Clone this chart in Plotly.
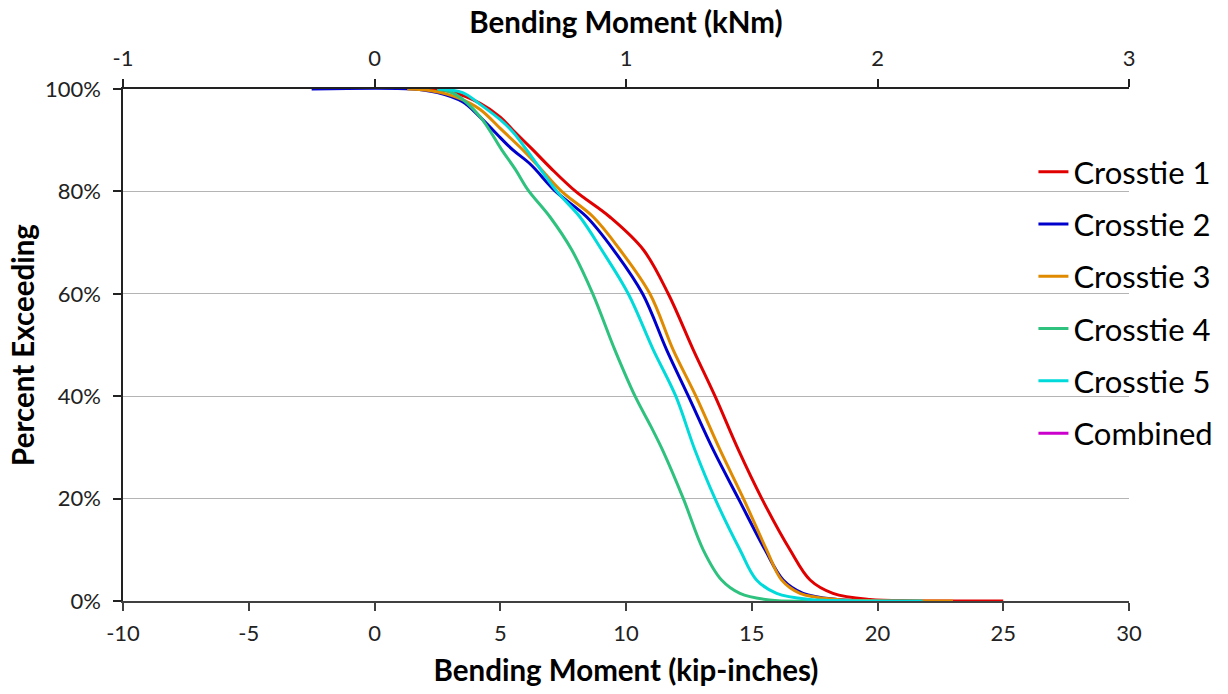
import plotly.graph_objects as go

FONT = "Lato"

names = ["Crosstie 1", "Crosstie 2", "Crosstie 3", "Crosstie 4", "Crosstie 5", "Combined"]
colors = ["#E00000", "#0000CC", "#E08A00", "#2EC27E", "#00DADA", "#CC00CC"]

ct1_x = [2.0, 3.0, 4.2, 5.0, 5.5, 6.3, 7.0, 8.0, 9.36, 10.69, 11.68, 12.68, 13.54, 14.47, 15.4, 16.52, 17.32, 18.23, 19.7, 21.5, 25.0]
ct1_y = [100, 99.5, 97.2, 94.5, 92.0, 88.1, 84.6, 80, 75, 68.6, 60, 49, 40, 29.5, 20, 10, 4.1, 1.5, 0.3, 0.05, 0]

ct2_x = [-2.5, 1.5, 2.5, 3.5, 4.2, 5.0, 5.5, 6.2, 7.2, 8.44, 9.5, 10.66, 11.62, 12.48, 13.47, 14.47, 15.53, 16.25, 17.04, 18.4, 20.0]
ct2_y = [100, 100, 99.3, 97.5, 94.5, 90.5, 88.1, 85.3, 80, 75, 68.6, 60, 49, 40, 29.5, 20, 10, 4.1, 1.5, 0.3, 0]

ct3_x = [1.3, 2.3, 3.3, 4.2, 5.0, 5.9, 6.5, 7.44, 8.7, 9.76, 10.95, 11.88, 12.78, 13.74, 14.67, 15.59, 16.19, 16.92, 18.4, 20.0, 23.0]
ct3_y = [100, 99.6, 98.3, 96.0, 92.3, 88.1, 85.0, 80, 75, 68.6, 60, 49, 40, 29.5, 20, 10, 4.1, 1.5, 0.3, 0.05, 0]

ct4_x = [2.5, 3.2, 4.2, 5.06, 5.6, 6.1, 6.98, 7.84, 8.68, 9.56, 10.36, 11.0, 11.5, 12.28, 13.07, 13.8, 14.53, 15.7, 17.5]
ct4_y = [100, 99.0, 94.6, 88.1, 84.3, 80.3, 75, 68.6, 60, 49, 40, 34.0, 29.0, 20, 10, 4.1, 1.5, 0.2, 0]

ct5_x = [2.5, 3.5, 4.2, 5.0, 5.52, 6.05, 7.25, 8.17, 9.03, 10.09, 11.09, 11.98, 12.74, 13.54, 14.53, 15.19, 15.99, 17.3, 19.0, 21.8]
ct5_y = [100, 99.3, 97.0, 94.0, 91.5, 88.1, 80, 75, 68.6, 60, 49, 40, 29.5, 20, 10, 4.1, 1.5, 0.3, 0.05, 0]

combined_x = []
combined_y = []

series_x = [ct1_x, ct2_x, ct3_x, ct4_x, ct5_x, combined_x]
series_y = [ct1_y, ct2_y, ct3_y, ct4_y, ct5_y, combined_y]

bottom_ticks = [-10, -5, 0, 5, 10, 15, 20, 25, 30]
top_ticks = [-1, 0, 1, 2, 3]
y_ticks = [0, 20, 40, 60, 80, 100]

fig = go.Figure()
for n, c, xs, ys in zip(names, colors, series_x, series_y):
    fig.add_trace(go.Scatter(
        x=xs if xs else [None], y=ys if ys else [None], name=n, mode="lines",
        line=dict(color=c, width=3, shape="spline", smoothing=1.0),
        legendgroup=n,
    ))

# trace to activate the top axis
fig.add_trace(go.Scatter(x=[None], y=[None], xaxis="x2", showlegend=False, hoverinfo="skip"))

tick_font = dict(family=FONT, size=22, color="#222222")
title_font = dict(family=FONT, size=29.5, color="#000000")

fig.update_layout(
    width=1228, height=694,
    margin=dict(l=123, r=99, t=89, b=93, autoexpand=False),
    paper_bgcolor="white", plot_bgcolor="white",
    font=dict(family=FONT),
    xaxis=dict(
        range=[-10, 30], tickvals=bottom_ticks, ticktext=[str(v) for v in bottom_ticks],
        ticks="outside", ticklen=8, tickwidth=2, ticklabelstandoff=4,
        tickcolor="#404040", showline=True, linecolor="#404040", linewidth=2,
        showgrid=False, zeroline=False, tickfont=tick_font,
        title=dict(text="<b>Bending Moment (kip-inches)</b>", font=title_font, standoff=15),
    ),
    xaxis2=dict(
        range=[-1, 3], tickvals=top_ticks, ticktext=[str(v) for v in top_ticks],
        overlaying="x", side="top", anchor="y", ticklabelstandoff=4,
        ticks="outside", ticklen=8, tickwidth=1.5, tickcolor="#222222",
        showline=True, linecolor="#222222", linewidth=1.5,
        showgrid=False, zeroline=False, tickfont=tick_font,
        title=dict(text="<b>Bending Moment (kNm)</b>", font=title_font, standoff=2),
    ),
    yaxis=dict(
        range=[0, 100], tickvals=y_ticks, ticktext=[f"{v}%" for v in y_ticks],
        ticks="outside", ticklen=8, ticklabelstandoff=8,
        tickwidth=1.5, tickcolor="#222222", showline=True, linecolor="#222222", linewidth=1.5,
        showgrid=True, gridcolor="#B4B4B4", gridwidth=1, zeroline=False, tickfont=tick_font,
        title=dict(text="<b>Percent Exceeding</b>", font=title_font, standoff=2),
    ),
    legend=dict(
        x=0.905, xanchor="left", y=0.583, yanchor="middle",
        bgcolor="rgba(0,0,0,0)", font=dict(family=FONT, size=31, color="#000000"),
        tracegroupgap=9, itemwidth=30,
    ),
    showlegend=True,
)

fig.write_html("out.html")
